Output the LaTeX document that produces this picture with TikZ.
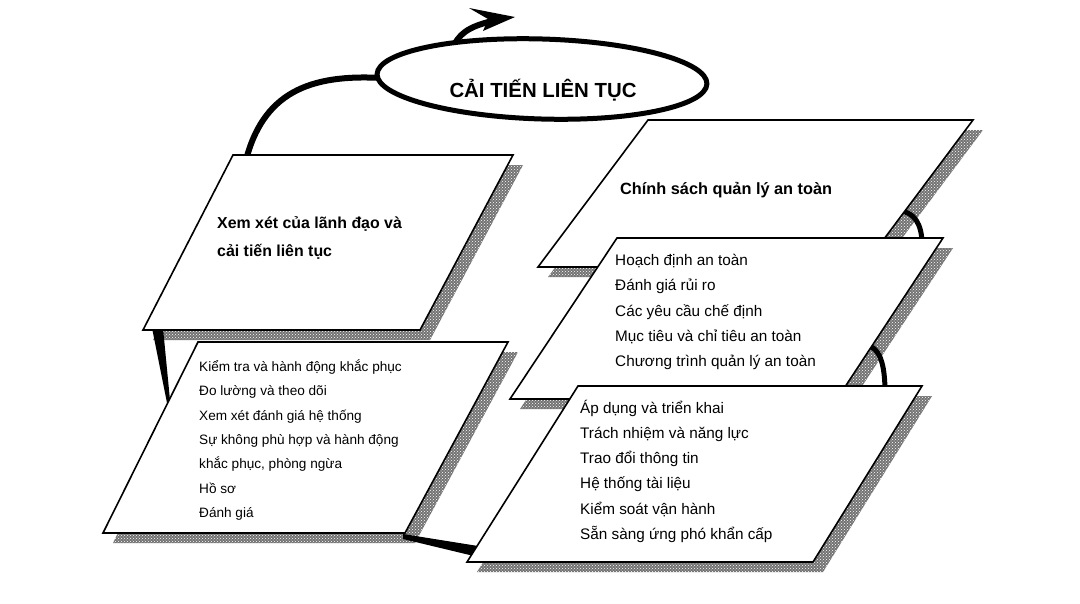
\documentclass[tikz,border=0pt]{standalone}
\usepackage{fontspec}
\setmainfont{Liberation Sans}
\usetikzlibrary{arrows.meta,patterns,shapes.geometric}
\newcommand\shadowpara[4]{\path[shade] ([shift={(10,10)}]#1) -- ([shift={(10,10)}]#2) -- ([shift={(10,10)}]#3) -- ([shift={(10,10)}]#4) -- cycle;}
\newcommand\boxpara[4]{\path[box] (#1) -- (#2) -- (#3) -- (#4) -- cycle;}
\begin{document}
\begin{tikzpicture}[x=1pt,y=-1pt,
  box/.style={draw=black,line width=1.6pt,fill=white,line join=miter},
  shade/.style={fill=black!55,postaction={pattern=crosshatch dots,pattern color=white}},
  band/.style={line width=6pt},
  item/.style={anchor=base west,inner sep=0pt},
  lista/.style={item,font=\fontsize{13.6}{16}\selectfont},
  listb/.style={item,font=\fontsize{15.3}{18}\selectfont},
  ttl/.style={item,font=\bfseries\fontsize{15.9}{18}\selectfont},
]
\useasboundingbox (0,0) rectangle (1080,603);
\fill[white] (0,0) rectangle (1080,603);
% corners
\coordinate (a1) at (233,155); \coordinate (b1) at (513,155); \coordinate (c1) at (420,330); \coordinate (d1) at (143,330);
\coordinate (a2) at (198,342); \coordinate (b2) at (508,342); \coordinate (c2) at (405,533); \coordinate (d2) at (103,533);
\coordinate (a3) at (648,120); \coordinate (b3) at (973,120); \coordinate (c3) at (863,267); \coordinate (d3) at (538,267);
\coordinate (a4) at (617,238); \coordinate (b4) at (943,238); \coordinate (c4) at (837,399); \coordinate (d4) at (510,399);
\coordinate (a5) at (578,386); \coordinate (b5) at (922,386); \coordinate (c5) at (813,562); \coordinate (d5) at (467,562);

% loop piece from ellipse to box 1
\draw[band] (382,78) .. controls (310,74) and (262,92) .. (245,164);
% box 1
\shadowpara{a1}{b1}{c1}{d1}
\fill (152,328) -- (163,328) -- (170,400) -- (168,408) -- cycle;
\boxpara{a1}{b1}{c1}{d1}
% box 2
\shadowpara{a2}{b2}{c2}{d2}
\fill (403,534) -- (478,546) -- (478,557) -- (403,539) -- cycle;
\boxpara{a2}{b2}{c2}{d2}
% box 3
\shadowpara{a3}{b3}{c3}{d3}
\draw[line width=5pt] (900,211) .. controls (914,212) and (922,224) .. (922,244);
\boxpara{a3}{b3}{c3}{d3}
% box 4
\shadowpara{a4}{b4}{c4}{d4}
\draw[line width=5pt] (866,345) .. controls (879,347) and (885,362) .. (885,392);
\boxpara{a4}{b4}{c4}{d4}
% box 5
\shadowpara{a5}{b5}{c5}{d5}
\boxpara{a5}{b5}{c5}{d5}

% top arrow
\draw[line width=6pt] (452,50) .. controls (458,34) and (468,27) .. (492,21);
\fill (515,17) -- (469,8) -- (488,19) -- (483,31) -- cycle;
% ellipse
\node[ellipse,draw,line width=5pt,fill=white,minimum width=330pt,minimum height=80pt,rotate=-1.7] (cyc) at (542,79) {};
\node[anchor=base,inner sep=0pt,font=\bfseries\fontsize{20.4}{24}\selectfont] (title) at (543,97) {CẢI TIẾN LIÊN TỤC};

% texts
\node[ttl] (t1a) at (217,228) {Xem xét của lãnh đạo và};
\node[ttl] (t1b) at (217,256) {cải tiến liên tục};

\node[lista] (t2a) at (199,371) {Kiểm tra và hành động khắc phục};
\node[lista] (t2b) at (199,395.5) {Đo lường và theo dõi};
\node[lista] (t2c) at (199,420) {Xem xét đánh giá hệ thống};
\node[lista] (t2d) at (199,444.5) {Sự không phù hợp và hành động};
\node[lista] (t2e) at (199,468.5) {khắc phục, phòng ngừa};
\node[lista] (t2f) at (199,493) {Hồ sơ};
\node[lista] (t2g) at (199,517) {Đánh giá};

\node[item,font=\bfseries\fontsize{16.3}{19}\selectfont] (t3) at (620,194) {Chính sách quản lý an toàn};

\node[listb] (t4a) at (615,265) {Hoạch định an toàn};
\node[listb] (t4b) at (615,290.5) {Đánh giá rủi ro};
\node[listb] (t4c) at (615,316) {Các yêu cầu chế định};
\node[listb] (t4d) at (615,341) {Mục tiêu và chỉ tiêu an toàn};
\node[listb] (t4e) at (615,366.5) {Chương trình quản lý an toàn};

\node[listb] (t5a) at (580,413) {Áp dụng và triển khai};
\node[listb] (t5b) at (580,438.3) {Trách nhiệm và năng lực};
\node[listb] (t5c) at (580,463.6) {Trao đổi thông tin};
\node[listb] (t5d) at (580,488.9) {Hệ thống tài liệu};
\node[listb] (t5e) at (580,514.2) {Kiểm soát vận hành};
\node[listb] (t5f) at (580,539.5) {Sẵn sàng ứng phó khẩn cấp};
\end{tikzpicture}
\end{document}
